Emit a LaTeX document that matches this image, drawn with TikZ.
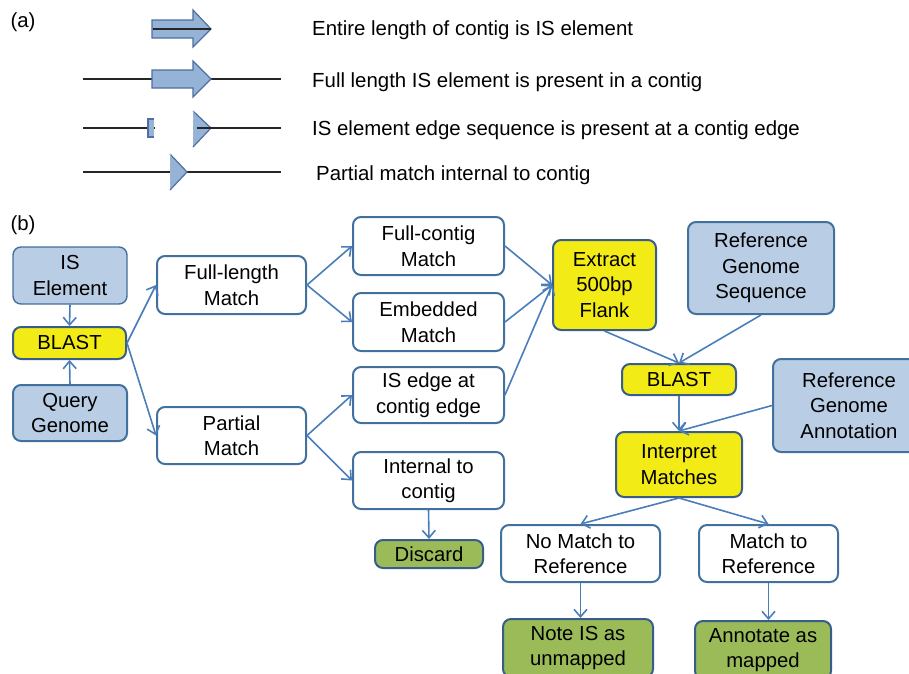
\documentclass[tikz,border=0pt]{standalone}
\usepackage{fontspec}
\setmainfont{Liberation Sans}
\usetikzlibrary{arrows.meta}
\definecolor{lblue}{HTML}{B9CDE5}
\definecolor{bblue}{HTML}{41719C}
\definecolor{dblue}{HTML}{385D8A}
\definecolor{yel}{HTML}{F3EB16}
\definecolor{grn}{HTML}{9BBB59}
\definecolor{arr}{HTML}{4A7EBB}
\definecolor{afill}{HTML}{95B3D7}
\definecolor{aedge}{HTML}{4F6F9F}
\begin{document}
\begin{tikzpicture}[x=1pt,y=-1pt,
  box/.style={rounded corners=8pt, line width=2pt, align=center, inner sep=0pt,
    font=\fontsize{20.3}{25.5}\selectfont},
  wbox/.style={box, draw=bblue, fill=white},
  bbox/.style={box, draw=bblue, fill=lblue},
  ybox/.style={box, draw=dblue, fill=yel},
  gbox/.style={box, draw=dblue, fill=grn},
  conn/.style={draw=arr, line width=1.6pt, -{Straight Barb[length=7.5pt,width=13pt]}},
  atxt/.style={anchor=west, inner sep=0pt, font=\fontsize{20.4}{24}\selectfont},
  lab/.style={inner sep=0pt, font=\fontsize{20.4}{24}\selectfont},
  isarrow/.style={fill=afill, draw=aedge, line width=1.2pt},
  contig/.style={draw=black!85, line width=1.2pt}
]
\useasboundingbox (0,0) rectangle (909,673);

% ---------- panel (a) ----------
\node[lab] (la) at (23,22) {(a)};
% row 1
\draw[isarrow] (152,20) -- (193,20) -- (193,10) -- (211,29) -- (193,47) -- (193,38) -- (152,38) -- cycle;
\draw[contig] (153,29) -- (211,29);
% row 2
\draw[contig] (83,79) -- (281,79);
\draw[isarrow] (152,70) -- (193,70) -- (193,61) -- (211,79) -- (193,97) -- (193,88) -- (152,88) -- cycle;
% row 3
\draw[contig] (83,128) -- (155,128);
\fill[afill] (148,119) rectangle (154,137);
\draw[aedge, line width=1.2pt] (154,119) -- (148,119) -- (148,137) -- (154,137);
\fill[afill] (193,111) -- (211,128) -- (193,147) -- cycle;
\draw[aedge, line width=1.2pt] (193,111) -- (211,128) -- (193,147);
\draw[aedge!50, line width=1pt, dashed] (193,111) -- (193,147);
\draw[contig] (197,128) -- (281,128);
% row 4
\draw[contig] (83,172) -- (281,172);
\fill[afill] (170,154) -- (187,172) -- (170,190) -- cycle;
\draw[aedge, line width=1.2pt] (170,154) -- (187,172) -- (170,190);
\draw[aedge!50, line width=1pt, dashed] (170,154) -- (170,190);

\node[atxt] (t1) at (312,30) {Entire length of contig is IS element};
\node[atxt] (t2) at (312,82) {Full length IS element is present in a contig};
\node[atxt] (t3) at (312,130) {IS element edge sequence is present at a contig edge};
\node[atxt] (t4) at (316,175) {Partial match internal to contig};

% ---------- panel (b) ----------
\node[lab] (lb) at (23,225) {(b)};

\node[bbox, line width=1.4pt, minimum width=114pt, minimum height=57pt] (ise) at (70,275.5) {IS\\Element};
\node[ybox, minimum width=113pt, minimum height=32pt] (bl1) at (69.5,343) {BLAST};
\node[bbox, minimum width=114pt, minimum height=56pt] (qg) at (70,413) {Query\\Genome};

\node[wbox, minimum width=149pt, minimum height=58pt] (fl) at (231.5,285) {Full-length\\Match};
\node[wbox, minimum width=149pt, minimum height=57pt] (pm) at (231.5,435.5) {Partial\\Match};

\node[wbox, minimum width=151pt, minimum height=58pt] (fc) at (428.5,246) {Full-contig\\Match};
\node[wbox, minimum width=151pt, minimum height=58pt] (em) at (428.5,322) {Embedded\\Match};
\node[wbox, minimum width=151pt, minimum height=56pt] (ie) at (428.5,395) {IS edge at\\contig edge};
\node[wbox, minimum width=151pt, minimum height=57pt] (ic) at (428.5,480.5) {Internal to\\contig};
\node[gbox, minimum width=108pt, minimum height=28pt] (dc) at (429,554) {Discard};

\node[ybox, minimum width=103pt, minimum height=90pt] (ex) at (604.5,285) {Extract\\500bp\\Flank};
\node[bbox, minimum width=146pt, minimum height=92pt] (rgs) at (761,268) {Reference\\Genome\\Sequence};
\node[ybox, minimum width=114pt, minimum height=31pt] (bl2) at (679,379.5) {BLAST};
\node[bbox, minimum width=152pt, minimum height=93pt] (rga) at (849,405.5) {Reference\\Genome\\Annotation};
\node[ybox, minimum width=126pt, minimum height=65pt] (im) at (679,464.5) {Interpret\\Matches};

\node[wbox, minimum width=159pt, minimum height=57pt] (nm) at (580.5,553.5) {No Match to\\Reference};
\node[wbox, minimum width=139pt, minimum height=57pt] (mr) at (768.5,553.5) {Match to\\Reference};
\node[gbox, minimum width=150pt, minimum height=58pt] (nt) at (578,648) {Note IS as\\unmapped};
\node[gbox, minimum width=136pt, minimum height=58pt] (an) at (763,650) {Annotate as\\mapped};

% connectors
\draw[conn] (ise.south) -- (bl1.north);
\draw[conn] (qg.north) -- (bl1.south);
\draw[conn] (bl1.east) -- (fl.west);
\draw[conn] (bl1.east) -- (pm.west);
\draw[conn] (fl.east) -- (fc.west);
\draw[conn] (fl.east) -- (em.west);
\draw[conn] (pm.east) -- (ie.west);
\draw[conn] (pm.east) -- (ic.west);
\draw[conn] (fc.east) -- (ex.west);
\draw[conn] (em.east) -- (ex.west);
\draw[conn] (ie.east) -- (ex.west);
\draw[conn] (ic.south) -- (dc.north);
\draw[conn] (ex.south) -- (bl2.north);
\draw[conn] (rgs.south) -- (bl2.north);
\draw[conn] (bl2.south) -- (im.north);
\draw[conn] (rga.west) -- (im.north);
\draw[conn] (im.south) -- (nm.north);
\draw[conn] (im.south) -- (mr.north);
\draw[conn] (nm.south) -- (nm.south |- nt.north);
\draw[conn] (mr.south) -- (mr.south |- an.north);
\end{tikzpicture}
\end{document}
